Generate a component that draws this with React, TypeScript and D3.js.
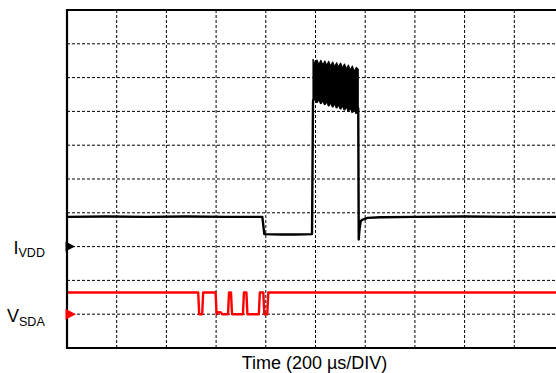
import React from "react";
import * as d3 from "d3";

// Grid divisions (scope screen: 10 x 10 divisions)
const xGridDivs = [1, 2, 3, 4, 5, 6, 7, 8, 9];
const yGridDivs = [1, 2, 3, 4, 5, 6, 7, 8, 9];

// Channel reference levels (divisions)
const ivddRef = 3;
const sdaRef = 1;

// I_VDD trace before the burst (time in div, value in div)
const ivddPreT = [0, 0.8, 1.6, 2.4, 3.2, 3.93, 3.97, 4.3, 4.6, 4.93, 4.95];
const ivddPreV = [3.88, 3.89, 3.88, 3.89, 3.88, 3.88, 3.37, 3.36, 3.36, 3.37, 7.3];

// Burst envelope (oscillation peaks / notches)
const burstStart = 4.95;
const burstEnd = 5.86;
const burstTop = [8.54, 8.4, 8.52, 8.39, 8.51, 8.37, 8.49, 8.36, 8.48, 8.34, 8.46, 8.32, 8.44, 8.31, 8.43, 8.28, 8.4, 8.25, 8.37, 8.22, 8.34, 8.18, 8.3, 8.24];
const burstBottom = [7.3, 7.44, 7.28, 7.4, 7.25, 7.37, 7.22, 7.34, 7.18, 7.31, 7.15, 7.28, 7.12, 7.25, 7.09, 7.22, 7.06, 7.19, 7.03, 7.16, 6.99, 7.13, 6.96, 7.1];

// I_VDD trace after the burst
const ivddPostT = [5.87, 5.885, 5.91, 5.95, 6.05, 6.3, 7.0, 8.0, 9.0, 10];
const ivddPostV = [3.21, 3.5, 3.76, 3.8, 3.85, 3.87, 3.88, 3.89, 3.88, 3.88];

// V_SDA trace
const sdaT = [0, 2.64, 2.66, 2.72, 2.74, 2.99, 3.01, 3.03, 3.1, 3.12, 3.24, 3.26, 3.3, 3.32, 3.54, 3.56, 3.61, 3.63, 3.86, 3.88, 3.95, 3.97, 4.03, 4.05, 10];
const sdaV = [1.64, 1.64, 1.0, 1.0, 1.64, 1.64, 1.0, 1.06, 1.05, 1.0, 1.0, 1.64, 1.64, 1.0, 1.0, 1.64, 1.64, 1.0, 1.0, 1.64, 1.64, 1.0, 1.0, 1.64, 1.64];

const xLabel = "Time (200 µs/DIV)";

const W = 556;
const H = 373;
const left = 67;
const top = 10;
const bottom = 348;
const divW = 49.7;

export default function App() {
  const x = d3.scaleLinear().domain([0, 10]).range([left, left + 10 * divW]);
  const y = d3.scaleLinear().domain([0, 10]).range([bottom, top]);

  const n = burstTop.length;
  const burstT = burstTop.map((_, i) => burstStart + (i * (burstEnd - burstStart)) / (n - 1));

  type P = [number, number];
  const ivddPts: P[] = [
    ...ivddPreT.map((t, i) => [t, ivddPreV[i]] as P),
    ...burstT.map((t, i) => [t, burstBottom[i]] as P),
    ...ivddPostT.map((t, i) => [t, ivddPostV[i]] as P),
  ];
  const line = d3
    .line<P>()
    .x((d) => x(d[0]))
    .y((d) => y(d[1]));
  const area = d3
    .area<number>()
    .x((_, i) => x(burstT[i]))
    .y0((_, i) => y(burstBottom[i]))
    .y1((_, i) => y(burstTop[i]));

  const sdaPts: P[] = sdaT.map((t, i) => [t, sdaV[i]] as P);

  const font = "'Liberation Sans', Arial, sans-serif";
  const dash = "3,2";

  const iy = y(ivddRef);
  const sy = y(sdaRef);

  return (
    <svg
      width={W}
      height={H}
      style={{ position: "absolute", left: 0, top: 0, background: "#fff" }}
      fontFamily={font}
    >
      <rect x={0} y={0} width={W} height={H} fill="#fff" />
      <defs>
        <clipPath id="plot">
          <rect x={left} y={top} width={W - left} height={bottom - top} />
        </clipPath>
      </defs>
      {/* grid */}
      <g stroke="#000" strokeWidth={1} strokeDasharray={dash} fill="none">
        {xGridDivs.map((d) => (
          <line key={"gx" + d} x1={x(d)} x2={x(d)} y1={top} y2={bottom} />
        ))}
        {yGridDivs.map((d) => (
          <line key={"gy" + d} x1={left} x2={W} y1={y(d)} y2={y(d)} />
        ))}
      </g>
      {/* traces */}
      <g clipPath="url(#plot)">
        <path d={line(sdaPts) || ""} fill="none" stroke="#ff0000" strokeWidth={2.4} strokeLinejoin="round" />
        <path d={area(burstTop) || ""} fill="#000" stroke="#000" strokeWidth={1.2} strokeLinejoin="round" />
        <path d={line(ivddPts) || ""} fill="none" stroke="#000" strokeWidth={2.4} strokeLinejoin="round" />
      </g>
      {/* frame */}
      <g stroke="#000" strokeWidth={2.2}>
        <line x1={left} x2={left} y1={top - 1} y2={bottom + 1} />
        <line x1={left} x2={W} y1={top} y2={top} />
        <line x1={left} x2={W} y1={bottom} y2={bottom} />
      </g>
      {/* channel markers */}
      <path d={`M${left - 1.5},${iy - 5} L${left + 8},${iy} L${left - 1.5},${iy + 5} Z`} fill="#000" />
      <path d={`M${left - 1.5},${sy - 5.5} L${left + 9},${sy} L${left - 1.5},${sy + 5.5} Z`} fill="#ff0000" />
      {/* channel labels */}
      <text x={13.5} y={iy + 7.5} fontSize={18} fill="#000">
        I
        <tspan fontSize={12.5} dy={3.3}>VDD</tspan>
      </text>
      <text x={7} y={sy + 7.5} fontSize={18} fill="#000">
        V
        <tspan fontSize={12.5} dy={4.3}>SDA</tspan>
      </text>
      {/* x label */}
      <text x={x(5) - 1} y={369} fontSize={18} textAnchor="middle" fill="#000">
        {xLabel}
      </text>
    </svg>
  );
}
